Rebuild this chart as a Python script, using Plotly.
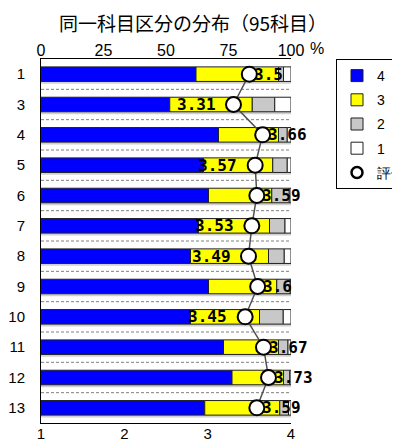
import plotly.graph_objects as go
import numpy as np

# ---- data ----
categories = ["1", "3", "4", "5", "6", "7", "8", "9", "10", "11", "12", "13"]
pct4 = [62.0, 51.5, 71.0, 65.0, 67.0, 63.0, 59.8, 67.0, 59.8, 73.0, 76.4, 65.5]
pct3 = [33.0, 33.0, 24.0, 27.7, 25.3, 28.4, 31.2, 27.3, 27.6, 22.0, 20.6, 30.0]
pct2 = [2.0, 9.0, 3.5, 5.8, 7.0, 6.2, 6.3, 5.4, 9.5, 3.8, 2.5, 3.5]
pct1 = [3.0, 6.5, 1.5, 1.5, 0.7, 2.4, 2.7, 0.3, 3.1, 1.2, 0.5, 1.0]
scores = [3.5, 3.31, 3.66, 3.57, 3.59, 3.53, 3.49, 3.6, 3.45, 3.67, 3.73, 3.59]
score_labels = ["3.5", "3.31", "3.66", "3.57", "3.59", "3.53", "3.49",
                "3.6", "3.45", "3.67", "3.73", "3.59"]
pct_ticks = [0, 25, 50, 75, 100]
score_ticks = [1, 2, 3, 4]
series_names = ["4", "3", "2", "1"]
title_text = "同一科目区分の分布（95科目）"

# ---- style ----
series_colors = ["#0000FF", "#FFFF00", "#C8C8C8", "#FFFFFF"]
label_side = ["right", "left", "right", "left", "right", "left", "left",
              "right", "left", "right", "right", "right"]
NUM_FONT = "Liberation Sans, Arial, sans-serif"
LBL_FONT = "DejaVu Sans Mono, Liberation Mono, monospace"
CJK_FONT = "Noto Sans CJK JP, Noto Sans, sans-serif"
BAR_W = 0.48

# figure sits 8px inside the page (body margin), so size it to fit
W, H = 392, 433
L, R, T, B = 33, 109, 51, 18
PW, PH = W - L - R, H - T - B

idx = np.arange(len(categories))
series = [np.array(pct4), np.array(pct3), np.array(pct2), np.array(pct1)]
totals = sum(series)
bases = np.cumsum([np.zeros(len(idx))] + series[:-1], axis=0)

fig = go.Figure()

# bar shadow
fig.add_trace(go.Bar(
    y=idx + 0.08, x=totals, base=0, orientation="h", xaxis="x", yaxis="y",
    width=BAR_W, marker=dict(color="#D0D0D0", line=dict(width=0)),
    showlegend=False, hoverinfo="skip"))

for name, vals, base, col in zip(series_names, series, bases, series_colors):
    fig.add_trace(go.Bar(
        y=idx, x=vals, base=base, orientation="h", xaxis="x", yaxis="y",
        name=name, width=BAR_W, legendgroup=name,
        marker=dict(color=col, line=dict(color="#202020", width=1))))

marker_style = dict(size=15, color="white", line=dict(color="black", width=2))
fig.add_trace(go.Scatter(
    x=scores, y=idx, xaxis="x2", yaxis="y", mode="lines+markers",
    line=dict(color="#505050", width=1.5), marker=marker_style,
    showlegend=False))
fig.add_trace(go.Scatter(
    x=[None], y=[None], xaxis="x2", yaxis="y", mode="markers", name="評価",
    legendgroup="評価",
    marker=dict(size=11, color="white", line=dict(color="black", width=2.5))))

annotations = []
for s, lab, side, i in zip(scores, score_labels, label_side, idx):
    annotations.append(dict(
        x=s, y=i, xref="x2", yref="y", text=lab, showarrow=False,
        xanchor="left" if side == "right" else "right",
        xshift=3 if side == "right" else -16, yshift=0,
        font=dict(family=LBL_FONT, size=16, color="black", weight="bold")))
annotations.append(dict(
    x=(309 - L) / PW, y=1 + (T - 40) / PH, xref="paper", yref="paper",
    text="%", showarrow=False, xanchor="center", yanchor="middle",
    font=dict(family=NUM_FONT, size=16, color="black")))

shapes = []
for i in idx[:-1]:
    shapes.append(dict(type="line", xref="x", yref="y", x0=0, x1=100,
                       y0=i + 0.5, y1=i + 0.5,
                       line=dict(color="#808080", width=1, dash="3px,2px"),
                       layer="below"))

fig.update_layout(
    width=W, height=H,
    margin=dict(l=L, r=R, t=T, b=B, autoexpand=False),
    paper_bgcolor="white", plot_bgcolor="white",
    barmode="overlay",
    title=dict(text=title_text, x=185 / W, xref="container", xanchor="center",
               y=1 - 16 / H, yref="container", yanchor="middle",
               font=dict(family=CJK_FONT, size=19, color="black")),
    xaxis=dict(range=[0, 100], tickvals=pct_ticks, side="top",
               showline=True, linecolor="black", linewidth=1, automargin=False,
               showgrid=False, zeroline=False, ticks="", ticklabelstandoff=-4,
               tickfont=dict(family=NUM_FONT, size=16, color="black")),
    xaxis2=dict(range=[1, 4], tickvals=score_ticks, side="bottom",
                overlaying="x", showline=True, linecolor="black", linewidth=1,
                automargin=False, ticklabelstandoff=-3,
                showgrid=False, zeroline=False, ticks="",
                tickfont=dict(family=NUM_FONT, size=15, color="black")),
    yaxis=dict(range=[11.5, -0.5], tickvals=idx, ticktext=categories,
               showline=True, linecolor="black", linewidth=1, automargin=False,
               showgrid=False, zeroline=False, ticks="", ticklabelstandoff=12,
               tickfont=dict(family=NUM_FONT, size=15, color="black")),
    legend=dict(x=(328 - L) / PW, y=1.0, xanchor="left", yanchor="top",
                xref="paper", yref="paper",
                bordercolor="black", borderwidth=1, bgcolor="white",
                tracegroupgap=3, traceorder="grouped",
                font=dict(family=NUM_FONT, size=14, color="black")),
    shapes=shapes, annotations=annotations,
    showlegend=True,
)

fig.write_html("out.html")
